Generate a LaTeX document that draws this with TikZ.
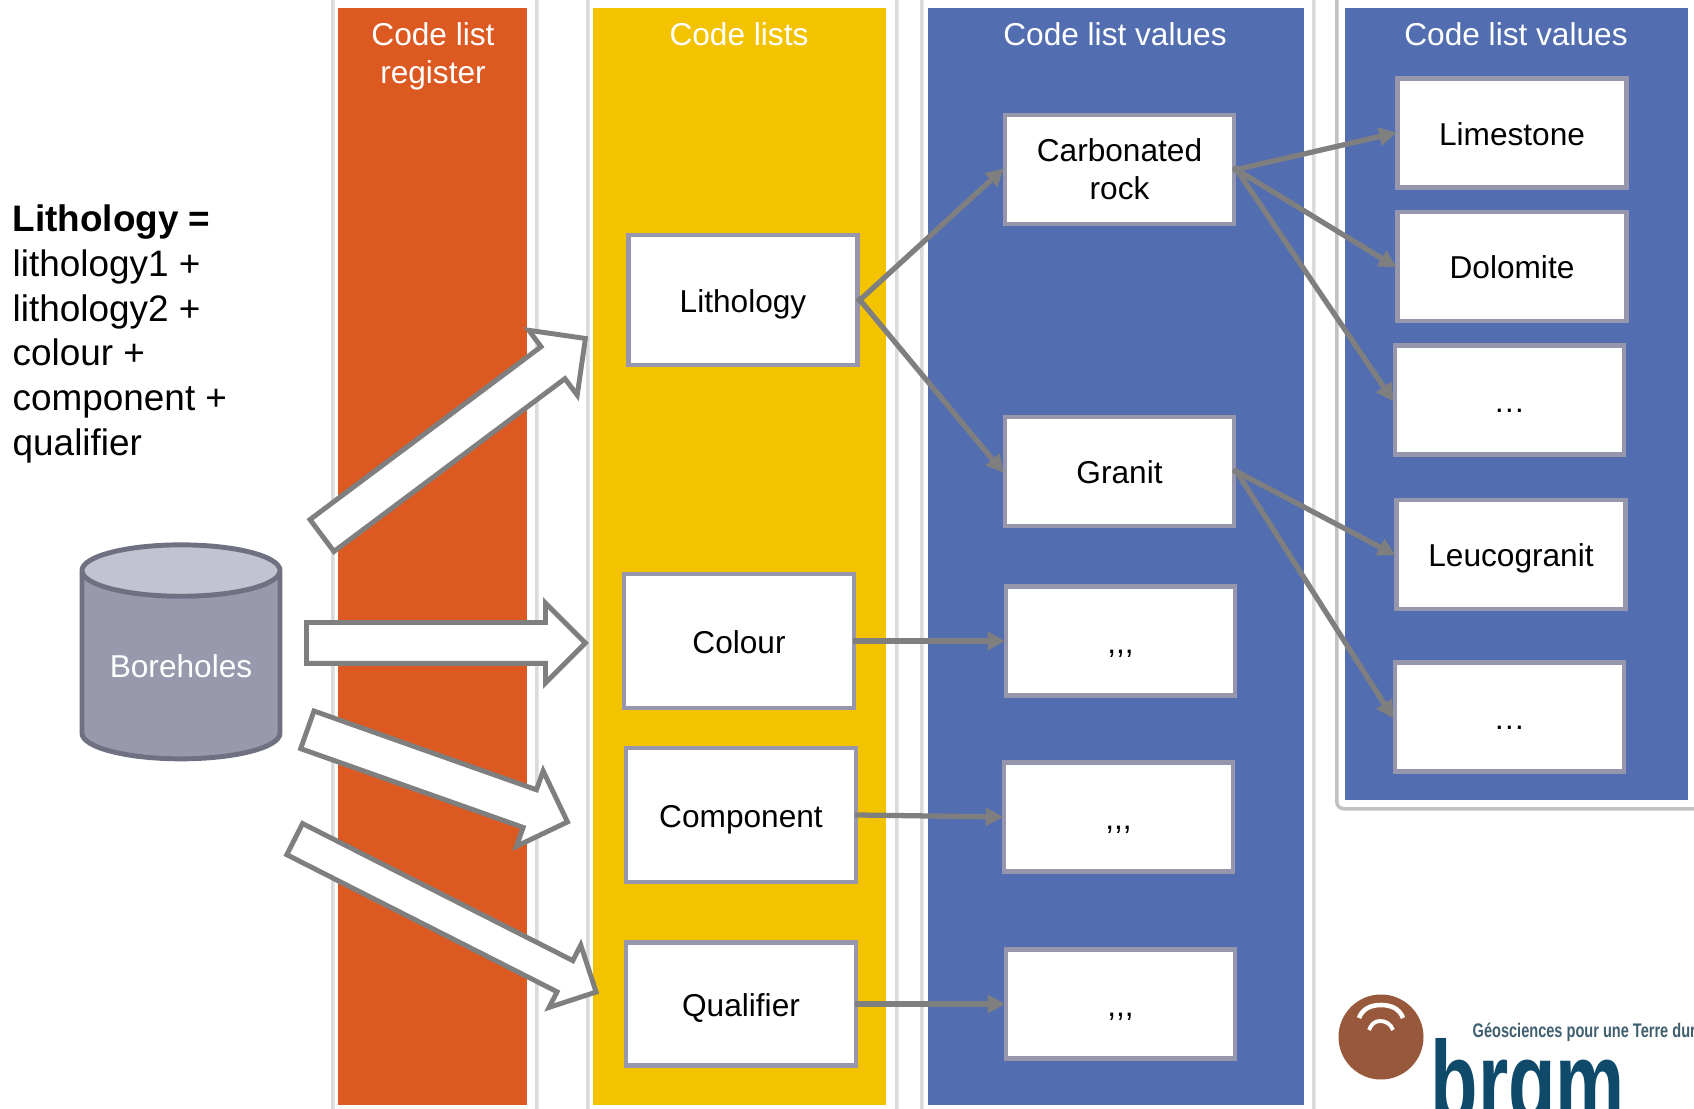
\documentclass[tikz,border=0pt]{standalone}
\usepackage{fontspec}
\usepackage{graphicx}
\setmainfont{Liberation Sans}
\usetikzlibrary{arrows.meta,positioning,shapes.geometric,shapes.arrows}
\definecolor{bandorange}{HTML}{DC5921}
\definecolor{bandyellow}{HTML}{F4C300}
\definecolor{bandblue}{HTML}{526DB0}
\definecolor{boxgray}{HTML}{9697AC}
\definecolor{linegray}{HTML}{7F7F7F}
\definecolor{cylbody}{HTML}{9899AC}
\definecolor{cyltop}{HTML}{C2C3D0}
\definecolor{cylline}{HTML}{6F7183}
\definecolor{logobrown}{HTML}{97583C}
\definecolor{logonavy}{HTML}{0F4A6B}
\definecolor{logotext}{HTML}{3F5F6E}
\tikzset{
  panel/.style={rectangle,draw=black!14,fill=white,line width=1pt,anchor=north west,rounded corners=2pt},
  band/.style={rectangle,anchor=north west,minimum width=#1,inner sep=0pt},
  head/.style={text=white,align=center},
  bigbox/.style={rectangle,draw=boxgray,fill=white,line width=1.4pt,minimum width=2.30cm,minimum height=1.34cm,text height=7pt,text depth=0pt},
  smallbox/.style={rectangle,draw=boxgray,fill=white,line width=1.4pt,minimum width=2.29cm,minimum height=1.09cm,text height=7pt,text depth=0pt},
  link/.style={draw=linegray,line width=1.5pt,shorten >=-0.5pt,shorten <=-1pt,-{Triangle[length=5pt,width=5pt]}},
  blockarrow/.style={single arrow,draw=linegray,fill=white,line width=1.4pt,anchor=tail,single arrow tip angle=90,miter limit=4}
}
\begin{document}
\begin{tikzpicture}[every node/.append style={font=\fontsize{9}{10.8}\selectfont}]
  \path[use as bounding box,clip] (0,0) rectangle (16.94,-11.09);
  % white panels behind the bands
  \node[panel,minimum width=2.04cm,minimum height=11.4cm] (pa) at (3.31,0.1){};
  \node[panel,minimum width=3.09cm,minimum height=11.4cm] (pb) at (5.86,0.1){};
  \node[panel,minimum width=3.92cm,minimum height=11.4cm] (pc) at (9.20,0.1){};
  \node[panel,draw=black!24,minimum width=3.8cm,minimum height=8.17cm] (pd) at (13.35,0.1){};
  % bands
  \node[band=1.89cm,minimum height=10.97cm,fill=bandorange] (reg) at (3.37,-0.07){};
  \node[band=2.93cm,minimum height=10.97cm,fill=bandyellow] (lists) at (5.92,-0.07){};
  \node[band=3.76cm,minimum height=10.97cm,fill=bandblue] (vals) at (9.27,-0.07){};
  \node[band=3.43cm,minimum height=7.92cm,fill=bandblue] (more) at (13.44,-0.07){};
  \node[head] (hreg) at (4.33,-0.56){Code list\\register};
  \node[head] (hlists) at (7.39,-0.34){Code lists};
  \node[head] (hvals) at (11.15,-0.34){Code list values};
  \node[head] (hmore) at (15.16,-0.34){Code list values};
  % code lists
  \node[bigbox,minimum width=2.29cm,minimum height=1.30cm] (li) at (7.43,-3.00){Lithology};
  \node[bigbox] (co) at (7.39,-6.41){Colour};
  \node[bigbox] (cm) at (7.41,-8.15){Component};
  \node[bigbox,minimum height=1.23cm] (qu) at (7.41,-10.04){Qualifier};
  % values
  \node[smallbox,align=center,text height=,text depth=] (cr) at (11.195,-1.695){Carbonated\\rock};
  \node[smallbox] (gr) at (11.195,-4.715){Granit};
  \node[smallbox] (va) at (11.205,-6.41){,{},{},};
  \node[smallbox] (vb) at (11.185,-8.17){,{},{},};
  \node[smallbox] (vc) at (11.205,-10.04){,{},{},};
  \node[smallbox] (ls) at (15.12,-1.33){Limestone};
  \node[smallbox] (dm) at (15.12,-2.665){Dolomite};
  \node[smallbox] (da) at (15.095,-4.00){…};
  \node[smallbox] (lg) at (15.11,-5.545){Leucogranit};
  \node[smallbox] (db) at (15.095,-7.17){…};
  \draw[link] (li.east) to (cr.west);
  \draw[link] (li.east) to (gr.west);
  \draw[link] (co.east) to (va.west);
  \draw[link] (cm.east) to (vb.west);
  \draw[link] (qu.east) to (vc.west);
  \draw[link] (cr.east) to (ls.west);
  \draw[link] (cr.east) to (dm.west);
  \draw[link] (cr.east) to (da.west);
  \draw[link] (gr.east) to (lg.west);
  \draw[link] (gr.east) to (db.west);
  % left side
  \node[anchor=west,align=left,inner sep=0pt,font=\fontsize{10.5}{12.7}\selectfont] (txt) at (0.12,-3.34){\textbf{Lithology =}\\lithology1 +\\lithology2 +\\colour +\\component +\\qualifier};
  \node[cylinder,shape border rotate=90,aspect=0.31,draw=cylline,line width=1.4pt,cylinder uses custom fill,cylinder body fill=cylbody,cylinder end fill=cyltop,minimum width=1.98cm,minimum height=2.14cm,text=white] (bh) at (1.81,-6.72){\raisebox{3.6pt}{Boreholes}};
  \node[blockarrow,rotate=36.8,inner sep=0.175cm,minimum height=3.29cm,single arrow head extend=0.205cm] (ar) at (3.20,-5.37){};
  \node[blockarrow,inner sep=0.18cm,minimum height=2.79cm,single arrow head extend=0.195cm] (br) at (3.04,-6.43){};
  \node[blockarrow,rotate=-19.5,inner sep=0.175cm,minimum height=2.76cm,single arrow head extend=0.20cm] (cr2) at (3.05,-7.29){};
  \node[blockarrow,rotate=-26.9,inner sep=0.15cm,minimum height=3.38cm,single arrow head extend=0.175cm] (dr) at (2.925,-8.38){};
  % logo
  \node[circle,fill=logobrown,minimum size=0.85cm,inner sep=0pt] (lo) at (13.81,-10.37){};
  \draw[white,line width=1.3pt] (13.59,-10.18) to [out=70,in=180] (13.81,-10.05) to [out=0,in=110] (14.03,-10.18);
  \draw[white,line width=1.1pt] (13.69,-10.30) to [out=70,in=180] (13.80,-10.21) to [out=0,in=110] (13.93,-10.30);
  \node[anchor=west,inner sep=0pt,text=logotext,font=\fontsize{5.6}{6}\bfseries] (lt) at (14.72,-10.32){\scalebox{0.74}[1]{Géosciences pour une Terre dur}};
  \node[anchor=base west,inner sep=0pt,text=logonavy,font=\fontsize{33}{33}\bfseries] (lb) at (14.30,-11.22){\scalebox{0.67}[1]{brgm}};
\end{tikzpicture}
\end{document}
